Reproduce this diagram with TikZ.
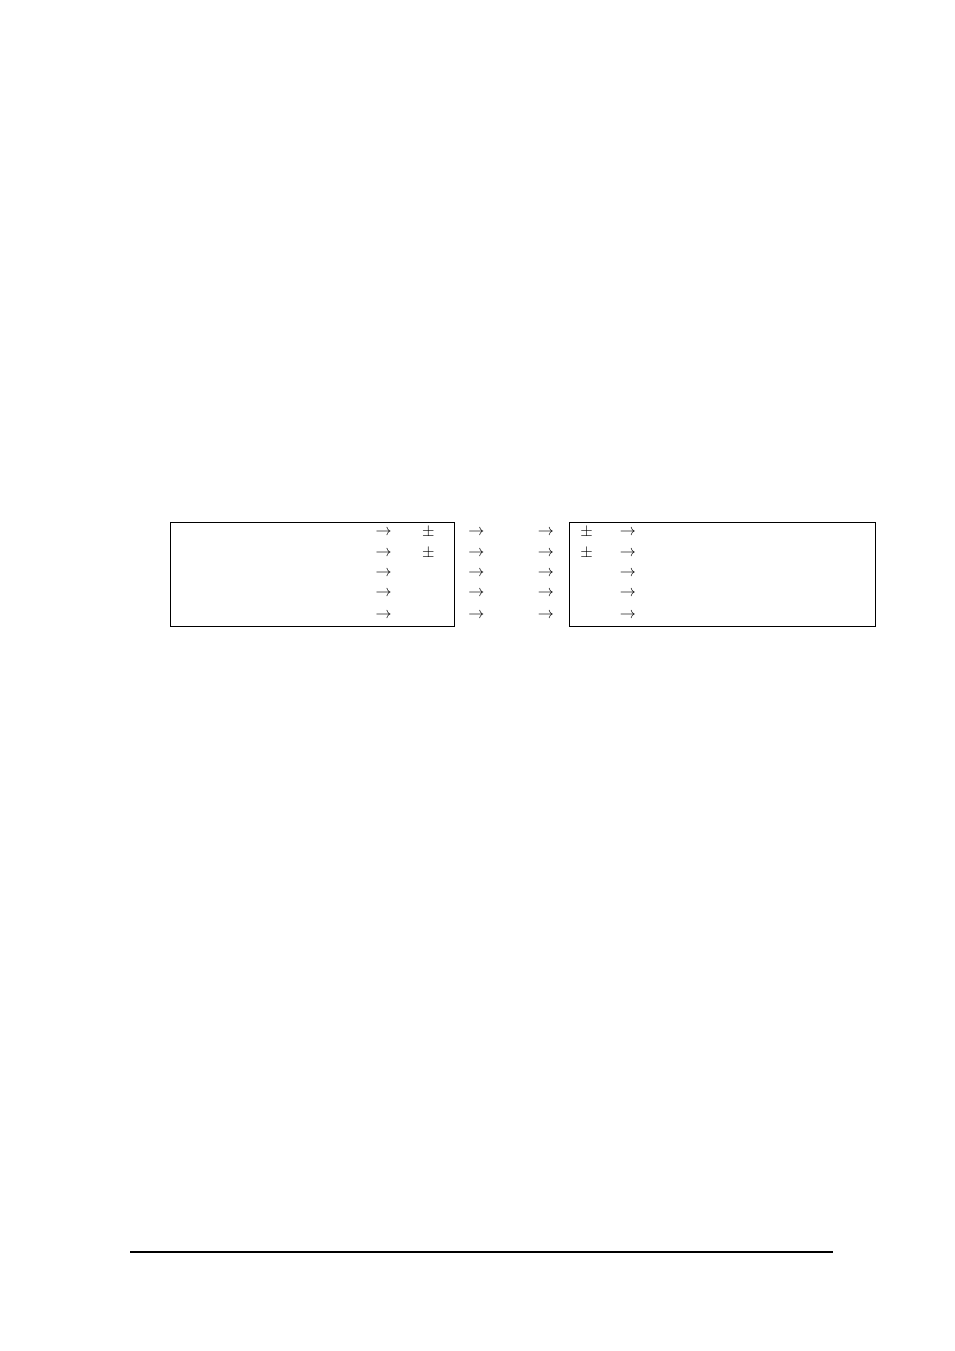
\documentclass[tikz,border=0pt]{standalone}
\begin{document}
\begin{tikzpicture}[x=0.624pt,y=-0.624pt,
  sym/.style={inner sep=0pt,font=\fontsize{10}{12}\selectfont},
  frame/.style={draw,line width=0.6pt},
  rule/.style={line width=1.1pt}]
\useasboundingbox (0,0) rectangle (954,1351);
% boxes
\draw[frame] (170.5,522.5) rectangle (454.5,626.3);
\draw[frame] (569.5,522.5) rectangle (875.5,626.3);
% arrow columns
\foreach \y [count=\i] in {532.5,553.5,574,594,615.3}{
  \node[sym] (la\i) at (383.7,\y) {$\rightarrow$};
  \node[sym] (ma\i) at (476.5,\y) {$\rightarrow$};
  \node[sym] (mb\i) at (546,\y) {$\rightarrow$};
  \node[sym] (ra\i) at (628,\y) {$\rightarrow$};
}
\node[sym] (lp1) at (428.3,532.5) {$\pm$};
\node[sym] (lp2) at (428.3,553.5) {$\pm$};
\node[sym] (rp1) at (586.5,532.5) {$\pm$};
\node[sym] (rp2) at (586.5,553.5) {$\pm$};
% bottom rule
\coordinate (r1) at (130,1251.7);
\coordinate (r2) at (832.5,1251.7);
\draw[rule] (r1) -- (r2);
\end{tikzpicture}
\end{document}
